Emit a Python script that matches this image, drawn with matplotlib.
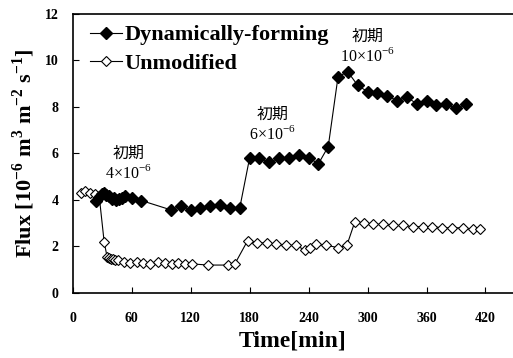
import matplotlib
matplotlib.use("Agg")
import matplotlib.pyplot as plt

plt.rcParams['font.family'] = ['Liberation Serif', 'Noto Sans CJK JP']
plt.rcParams['mathtext.fontset'] = 'custom'
plt.rcParams['mathtext.rm'] = 'Liberation Serif'
plt.rcParams['mathtext.bf'] = 'Liberation Serif:bold'

# Dynamically-forming membrane
dyn_t = [24, 30, 32, 34, 37, 40, 42, 44, 47, 50, 53, 60, 70,
         100, 110, 120, 130, 140, 150, 160, 170,
         180, 190, 200, 210, 220, 230, 240, 250, 260,
         270, 280, 290, 300, 310, 320, 330, 340, 350, 360, 370, 380, 390, 400]
dyn_flux = [3.97, 4.25, 4.3, 4.2, 4.15, 4.05, 4.1, 4.0, 4.05, 4.1, 4.15, 4.1, 3.97,
            3.57, 3.74, 3.57, 3.66, 3.74, 3.78, 3.66, 3.66,
            5.8, 5.79, 5.62, 5.79, 5.79, 5.93, 5.82, 5.55, 6.29,
            9.3, 9.5, 8.92, 8.65, 8.6, 8.47, 8.27, 8.42, 8.13, 8.24, 8.06, 8.12, 7.93, 8.11]

# Unmodified membrane
unm_t = [8, 13, 18, 23, 27, 32, 35, 37, 39, 41, 43, 46, 52, 58, 65,
         72, 79, 87, 94, 101, 107, 114, 121, 138, 158, 165,
         178, 188, 198, 207, 217, 227, 236, 241, 248, 258, 270, 279,
         287, 296, 306, 316, 326, 336, 346, 356, 366, 376, 386, 397, 407, 414]
unm_flux = [4.3, 4.37, 4.3, 4.25, 4.15, 2.2, 1.55, 1.5, 1.45, 1.45, 1.4, 1.4, 1.35, 1.3, 1.35,
            1.3, 1.25, 1.35, 1.3, 1.25, 1.3, 1.25, 1.25, 1.2, 1.2, 1.25,
            2.25, 2.15, 2.15, 2.1, 2.05, 2.05, 1.85, 1.95, 2.1, 2.05, 1.95, 2.05,
            3.05, 3.0, 2.95, 2.95, 2.9, 2.9, 2.85, 2.85, 2.85, 2.8, 2.8, 2.8, 2.75, 2.75]

# initial concentration labels
note_t = [57, 203, 300]
note_conc = ['4', '6', '10']
note_y = [6.0, 7.66, 11.02]

fig = plt.figure(figsize=(5.13, 3.58), dpi=100)
ax = fig.add_axes([0.1417, 0.1816, 0.8583, 0.7801])

ax.plot(unm_t, unm_flux, color='black', lw=0.8, marker='D', ms=5.5,
        mfc='white', mec='black', mew=0.8, label='Unmodified', zorder=2)
ax.plot(dyn_t, dyn_flux, color='black', lw=0.8, marker='D', ms=6.5,
        mfc='black', mec='black', label='Dynamically-forming', zorder=3)

for t, c, y in zip(note_t, note_conc, note_y):
    ax.text(t, y, '初期', ha='center', va='center', fontsize=11.5,
            family=['Noto Sans CJK JP'])
    ax.text(t, y - 0.85, c + '×10$^{-6}$', ha='center', va='center', fontsize=11.5)

ax.set_xlim(0, 448)
ax.set_ylim(0, 12)
ax.set_xticks(range(0, 421, 60))
ax.set_yticks(range(0, 13, 2))
ax.tick_params(direction='in', length=4, width=0.8)
ax.tick_params(axis='x', pad=14, labelsize=10)
ax.tick_params(axis='y', pad=10, labelsize=10)
for lab in ax.get_xticklabels() + ax.get_yticklabels():
    lab.set_fontweight('bold')
ax.spines['right'].set_visible(False)
for s in ['left', 'bottom', 'top']:
    ax.spines[s].set_linewidth(1.2)

ax.set_xlabel('Time[min]', fontsize=17, fontweight='bold', labelpad=4)
ax.set_ylabel(r'Flux [10$^{\mathbf{-6}}$ m$^{\mathbf{3}}$ m$^{\mathbf{-2}}$ s$^{\mathbf{-1}}$]',
              fontsize=16, fontweight='bold', labelpad=6)

h, l = ax.get_legend_handles_labels()
ax.legend(h[::-1], l[::-1], loc='upper left', frameon=False,
          prop={'weight': 'bold', 'size': 16}, handlelength=1.4,
          handletextpad=0.15, labelspacing=0.35, borderaxespad=0.1,
          bbox_to_anchor=(0.015, 1.0))

fig.savefig('out.png', dpi=100)
